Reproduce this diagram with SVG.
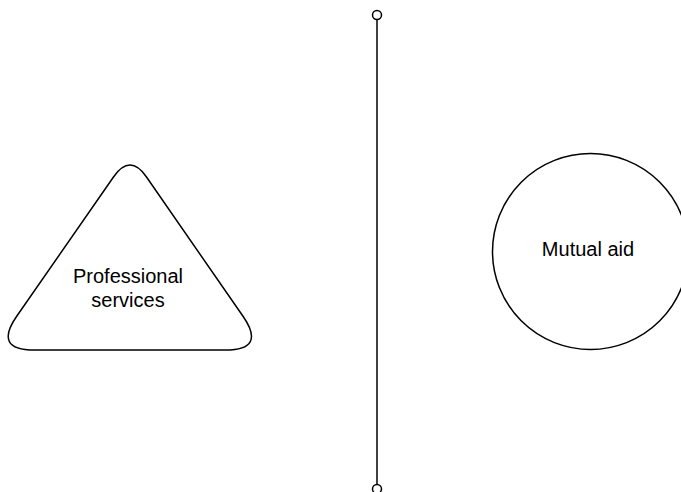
<svg xmlns="http://www.w3.org/2000/svg" width="681" height="492" viewBox="0 0 681 492">
<style>
.shape{fill:#ffffff;stroke:#000000;stroke-width:1.5}
.lbl{font-family:"Liberation Sans",Arial,Helvetica,sans-serif;font-size:20px;fill:#000000;text-anchor:middle}
.conn{fill:none;stroke:#000000;stroke-width:1.5}
.end{fill:#ffffff;stroke:#000000;stroke-width:1.5}
</style>
<rect width="681" height="492" fill="#ffffff"/>
<g id="connectors">
<line class="conn" x1="377" y1="19.5" x2="377" y2="484.5"/>
<circle class="end" cx="377" cy="15" r="4.5"/>
<circle class="end" cx="377" cy="489" r="4.5"/>
</g>
<g id="professional-services">
<path class="shape" d="M113.5,177.0 Q130,153.2 146.5,177.0 L243.0,316.3 Q266.4,350 225.4,350 L34.3,350 Q-6.7,350 16.7,316.3 Z"/>
<text class="lbl" x="128" y="283">Professional</text>
<text class="lbl" x="128" y="307">services</text>
</g>
<g id="mutual-aid">
<circle class="shape" cx="590.5" cy="251.5" r="98"/>
<text class="lbl" x="588" y="256">Mutual aid</text>
</g>
</svg>
